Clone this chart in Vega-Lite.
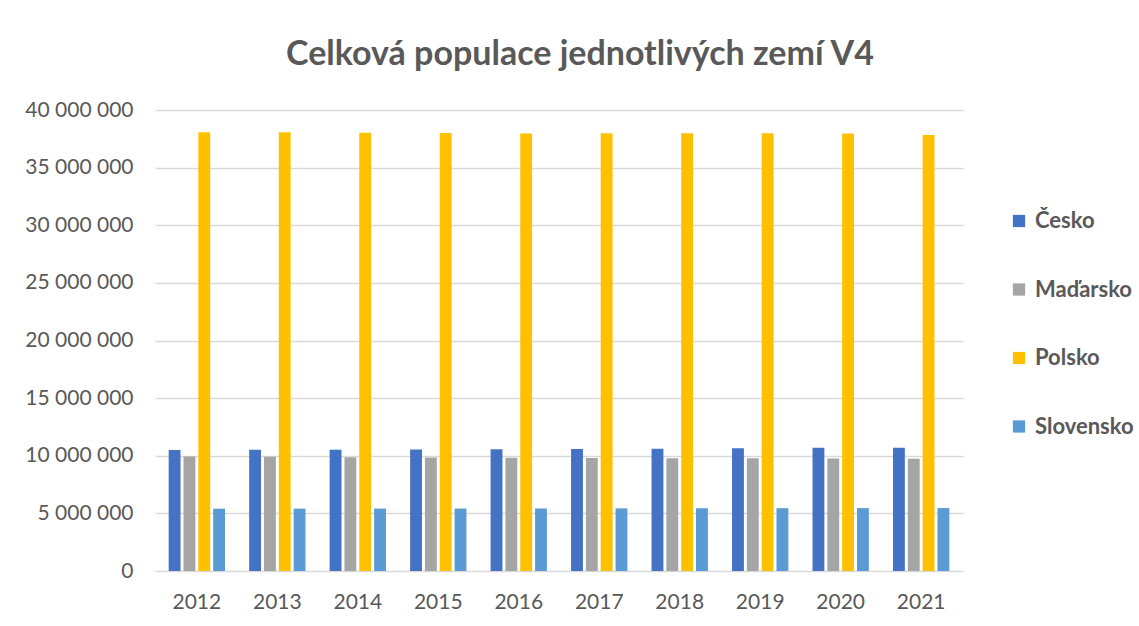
{
  "$schema": "https://vega.github.io/schema/vega-lite/v6.json",
  "autosize": {"type": "none"},
  "padding": {"left": 155, "top": 110, "right": 176, "bottom": 55},
  "width": 808,
  "height": 461,
  "background": "white",
  "title": {
    "text": "Celková populace jednotlivých zemí V4",
    "font": "Lato",
    "fontSize": 34,
    "fontWeight": "bold",
    "color": "#595959",
    "anchor": "middle",
    "dx": 21,
    "offset": 27
  },
  "data": {
    "values": [
      {"rok": "2012", "zeme": "Česko", "populace": 10505445},
      {"rok": "2013", "zeme": "Česko", "populace": 10516125},
      {"rok": "2014", "zeme": "Česko", "populace": 10512419},
      {"rok": "2015", "zeme": "Česko", "populace": 10538275},
      {"rok": "2016", "zeme": "Česko", "populace": 10553843},
      {"rok": "2017", "zeme": "Česko", "populace": 10578820},
      {"rok": "2018", "zeme": "Česko", "populace": 10610055},
      {"rok": "2019", "zeme": "Česko", "populace": 10649800},
      {"rok": "2020", "zeme": "Česko", "populace": 10693939},
      {"rok": "2021", "zeme": "Česko", "populace": 10701777},
      {"rok": "2012", "zeme": "Maďarsko", "populace": 9931925},
      {"rok": "2013", "zeme": "Maďarsko", "populace": 9908798},
      {"rok": "2014", "zeme": "Maďarsko", "populace": 9877365},
      {"rok": "2015", "zeme": "Maďarsko", "populace": 9855571},
      {"rok": "2016", "zeme": "Maďarsko", "populace": 9830485},
      {"rok": "2017", "zeme": "Maďarsko", "populace": 9797561},
      {"rok": "2018", "zeme": "Maďarsko", "populace": 9778371},
      {"rok": "2019", "zeme": "Maďarsko", "populace": 9772756},
      {"rok": "2020", "zeme": "Maďarsko", "populace": 9769526},
      {"rok": "2021", "zeme": "Maďarsko", "populace": 9730772},
      {"rok": "2012", "zeme": "Polsko", "populace": 38063792},
      {"rok": "2013", "zeme": "Polsko", "populace": 38062535},
      {"rok": "2014", "zeme": "Polsko", "populace": 38017856},
      {"rok": "2015", "zeme": "Polsko", "populace": 38005614},
      {"rok": "2016", "zeme": "Polsko", "populace": 37967209},
      {"rok": "2017", "zeme": "Polsko", "populace": 37972964},
      {"rok": "2018", "zeme": "Polsko", "populace": 37976687},
      {"rok": "2019", "zeme": "Polsko", "populace": 37972812},
      {"rok": "2020", "zeme": "Polsko", "populace": 37958138},
      {"rok": "2021", "zeme": "Polsko", "populace": 37840001},
      {"rok": "2012", "zeme": "Slovensko", "populace": 5404322},
      {"rok": "2013", "zeme": "Slovensko", "populace": 5410836},
      {"rok": "2014", "zeme": "Slovensko", "populace": 5415949},
      {"rok": "2015", "zeme": "Slovensko", "populace": 5421349},
      {"rok": "2016", "zeme": "Slovensko", "populace": 5426252},
      {"rok": "2017", "zeme": "Slovensko", "populace": 5435343},
      {"rok": "2018", "zeme": "Slovensko", "populace": 5443120},
      {"rok": "2019", "zeme": "Slovensko", "populace": 5450421},
      {"rok": "2020", "zeme": "Slovensko", "populace": 5457873},
      {"rok": "2021", "zeme": "Slovensko", "populace": 5459781}
    ]
  },
  "mark": {"type": "bar"},
  "encoding": {
    "x": {
      "field": "rok",
      "type": "nominal",
      "scale": {"paddingInner": 0.3, "paddingOuter": 0.17},
      "axis": {
        "title": null,
        "labelAngle": 0,
        "labelFont": "Lato",
        "labelFontSize": 21,
        "labelColor": "#595959",
        "labelPadding": 20,
        "ticks": false,
        "domain": false,
        "grid": false
      }
    },
    "xOffset": {
      "field": "zeme",
      "type": "nominal",
      "sort": ["Česko", "Maďarsko", "Polsko", "Slovensko"],
      "scale": {"paddingInner": 0.2, "paddingOuter": 0}
    },
    "y": {
      "field": "populace",
      "type": "quantitative",
      "scale": {"domain": [0, 40000000], "nice": false},
      "axis": {
        "title": null,
        "values": [0, 5000000, 10000000, 15000000, 20000000, 25000000, 30000000, 35000000, 40000000],
        "labelExpr": "replace(format(datum.value, ','), /,/g, ' ')",
        "labelFont": "Lato",
        "labelFontSize": 21,
        "labelColor": "#595959",
        "labelPadding": 22,
        "ticks": false,
        "domain": false,
        "grid": true,
        "gridColor": "#d9d9d9",
        "gridWidth": 1.5
      }
    },
    "color": {
      "field": "zeme",
      "type": "nominal",
      "scale": {
        "domain": ["Česko", "Maďarsko", "Polsko", "Slovensko"],
        "range": ["#4472C4", "#A5A5A5", "#FFC000", "#5B9BD5"]
      },
      "legend": {
        "title": null,
        "orient": "none",
        "legendX": 853,
        "legendY": 100,
        "symbolType": "square",
        "symbolSize": 150,
        "symbolStrokeWidth": 0,
        "labelFont": "Lato",
        "labelFontSize": 22,
        "labelFontWeight": "bold",
        "labelColor": "#595959",
        "labelOffset": 5,
        "rowPadding": 46.5
      }
    }
  },
  "config": {
    "view": {"stroke": null}
  }
}
